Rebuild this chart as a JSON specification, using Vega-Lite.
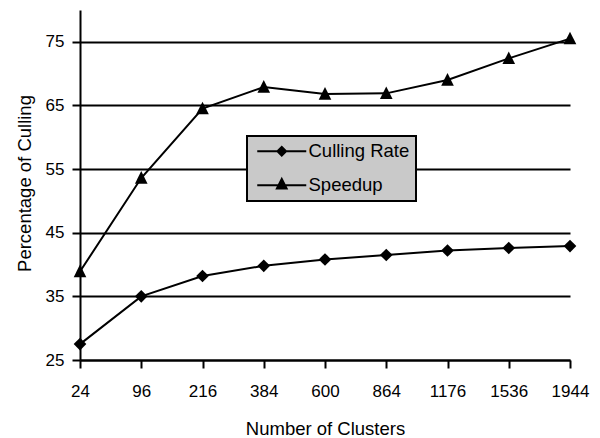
{
  "$schema": "https://vega.github.io/schema/vega-lite/v6.json",
  "width": 490,
  "height": 350,
  "autosize": {"type": "none"},
  "padding": {"left": 80, "top": 10, "right": 30, "bottom": 78},
  "background": "white",
  "config": {
    "view": {"stroke": null},
    "font": "Liberation Sans",
    "axis": {
      "labelFont": "Liberation Sans",
      "titleFont": "Liberation Sans",
      "labelColor": "black",
      "titleColor": "black",
      "labelFontSize": 17,
      "titleFontSize": 18.5,
      "titleFontWeight": "normal",
      "domainColor": "black",
      "domainWidth": 2,
      "tickColor": "black",
      "tickWidth": 2,
      "tickSize": 8
    },
    "legend": {
      "orient": "none",
      "legendX": 167,
      "legendY": 126,
      "fillColor": "#c9c9c9",
      "strokeColor": "black",
      "strokeWidth": 2,
      "padding": 6,
      "labelFont": "Liberation Sans",
      "labelFontSize": 18.5,
      "labelColor": "black",
      "symbolSize": 100,
      "symbolStrokeWidth": 2,
      "symbolOpacity": 1,
      "symbolFillColor": "black",
      "symbolStrokeColor": "black",
      "rowPadding": 11,
      "labelOffset": 37
    }
  },
  "data": {
    "values": [
      {"clusters": 24, "series": "Culling Rate", "value": 27.5},
      {"clusters": 96, "series": "Culling Rate", "value": 35.0},
      {"clusters": 216, "series": "Culling Rate", "value": 38.2},
      {"clusters": 384, "series": "Culling Rate", "value": 39.8},
      {"clusters": 600, "series": "Culling Rate", "value": 40.8},
      {"clusters": 864, "series": "Culling Rate", "value": 41.5},
      {"clusters": 1176, "series": "Culling Rate", "value": 42.2},
      {"clusters": 1536, "series": "Culling Rate", "value": 42.6},
      {"clusters": 1944, "series": "Culling Rate", "value": 42.9},
      {"clusters": 24, "series": "Speedup", "value": 38.9},
      {"clusters": 96, "series": "Speedup", "value": 53.6},
      {"clusters": 216, "series": "Speedup", "value": 64.5},
      {"clusters": 384, "series": "Speedup", "value": 67.9},
      {"clusters": 600, "series": "Speedup", "value": 66.8},
      {"clusters": 864, "series": "Speedup", "value": 66.9},
      {"clusters": 1176, "series": "Speedup", "value": 69.0},
      {"clusters": 1536, "series": "Speedup", "value": 72.4},
      {"clusters": 1944, "series": "Speedup", "value": 75.5}
    ]
  },
  "encoding": {
    "x": {
      "field": "clusters",
      "type": "ordinal",
      "scale": {"type": "point", "padding": 0},
      "axis": {
        "title": "Number of Clusters",
        "labelAngle": 0,
        "labelPadding": 15,
        "titleBaseline": "alphabetic",
        "titleY": 74,
        "grid": false
      }
    },
    "y": {
      "field": "value",
      "type": "quantitative",
      "scale": {"domain": [25, 80], "nice": false, "zero": false},
      "axis": {
        "title": "Percentage of Culling",
        "values": [25, 35, 45, 55, 65, 75],
        "grid": true,
        "gridColor": "black",
        "gridWidth": 2,
        "gridOpacity": 1,
        "labelPadding": 8,
        "titleBaseline": "alphabetic",
        "titleX": -50,
        "titleY": 173
      }
    }
  },
  "resolve": {"scale": {"shape": "independent"}, "legend": {"shape": "independent"}},
  "layer": [
    {
      "mark": {"type": "line", "color": "black", "strokeWidth": 2},
      "encoding": {"detail": {"field": "series"}}
    },
    {
      "mark": {"type": "point", "filled": true, "color": "black", "opacity": 1, "size": 160, "strokeWidth": 0},
      "encoding": {
        "shape": {
          "field": "series",
          "type": "nominal",
          "scale": {
            "domain": ["Culling Rate", "Speedup"],
            "range": ["M0,-1L1,0L0,1L-1,0Z", "M0,-1.1L1,0.9L-1,0.9Z"]
          },
          "legend": null
        }
      }
    },
    {
      "mark": {"type": "point", "filled": true, "color": "black", "opacity": 0, "size": 100, "strokeWidth": 0},
      "encoding": {
        "shape": {
          "field": "series",
          "type": "nominal",
          "scale": {
            "domain": ["Culling Rate", "Speedup"],
            "range": ["M-1,-0.2H8.8V0.2H-1ZM3.9,-1.15L5.05,0L3.9,1.15L2.75,0Z", "M-1,-0.2H8.8V0.2H-1ZM3.9,-1.7L5.2,0.86L2.6,0.86Z"]
          },
          "legend": {"title": null}
        }
      }
    }
  ]
}
